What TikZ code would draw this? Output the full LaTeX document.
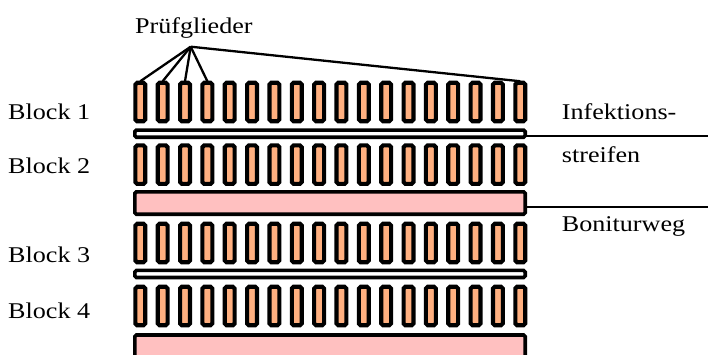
\documentclass[tikz,border=0pt]{standalone}
\usepackage{fontspec}
\setmainfont[FakeStretch=1.16]{Liberation Serif}
\definecolor{plotorange}{RGB}{255,176,128}
\definecolor{wegpink}{RGB}{255,192,192}
\begin{document}
\begin{tikzpicture}[x=1pt,y=-1pt,
  plotbox/.style={draw=black,line width=4.1pt,rounded corners=1.8pt,fill=plotorange,
    minimum width=9.9pt,minimum height=38.5pt,inner sep=0pt,outer sep=0pt},
  stripbox/.style={draw=black,line width=3.6pt,rounded corners=1.6pt,fill=white,
    minimum width=390.4pt,minimum height=7.1pt,inner sep=0pt,outer sep=0pt},
  wegbox/.style={draw=black,line width=3.6pt,rounded corners=1.6pt,fill=wegpink,
    minimum width=390.4pt,inner sep=0pt,outer sep=0pt},
  lbl/.style={anchor=base west,inner sep=0pt,font=\fontsize{22.5}{26}\selectfont},
  conn/.style={draw=black,line width=2.3pt}]
\useasboundingbox (0,0) rectangle (708,354);
\clip (0,0) rectangle (708,354);
% plots
\foreach \b/\yc in {1/102,2/164.65,3/243,4/306}{
  \foreach \i in {1,...,18}{
    \node[plotbox] (p\b-\i) at ({140.3+22.35*(\i-1)},\yc) {};
  }
}
% strips and paths
\node[stripbox] (s1) at (330,133.65) {};
\node[wegbox,minimum height=22.4pt] (w1) at (330,203) {};
\node[stripbox] (s2) at (330,273.95) {};
\node[wegbox,minimum height=35pt] (w2) at (330,352.5) {};
% labels
\node[lbl] (tpg) at (135,33) {Prüfglieder};
\node[lbl] (tb1) at (8,119.3) {Block 1};
\node[lbl] (tb2) at (8,173.3) {Block 2};
\node[lbl] (tb3) at (8,262.3) {Block 3};
\node[lbl] (tb4) at (8,318.3) {Block 4};
\node[lbl] (tinf) at (561.7,119.3) {Infektions-};
\node[lbl] (tstr) at (561.7,162.3) {streifen};
\node[lbl] (tbon) at (561.7,231.7) {Boniturweg};
% pointer lines
\coordinate (hub) at (190.7,46.7);
\foreach \i in {1,2,3,4,18}{
  \draw[conn] (hub) -- ([yshift=1.5pt]p1-\i.north);
}
% right lines
\coordinate (e1) at (708,135.7);
\coordinate (e2) at (708,207.3);
\draw[conn] (s1.east |- e1) -- (e1);
\draw[conn] (w1.east |- e2) -- (e2);
\end{tikzpicture}
\end{document}
